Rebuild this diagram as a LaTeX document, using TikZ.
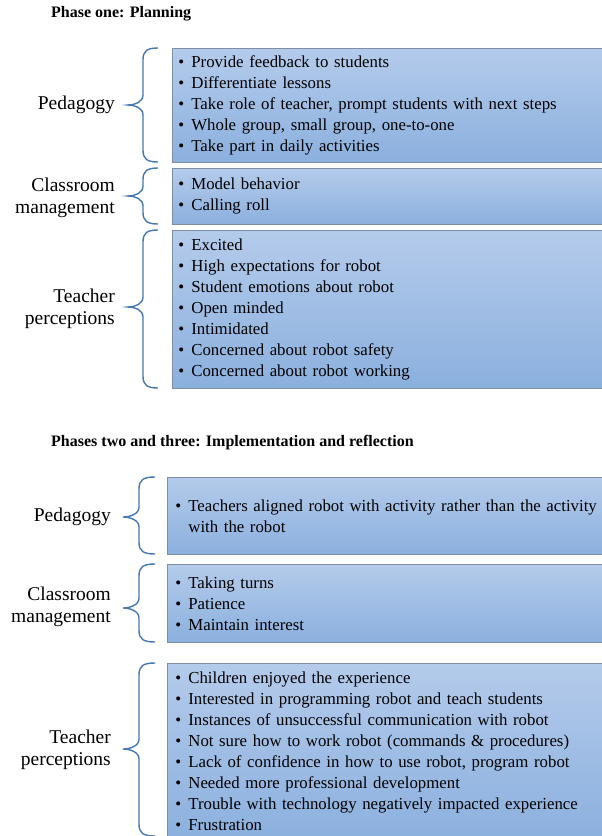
\documentclass[tikz,border=0pt]{standalone}
\usepackage{fontspec}
\setmainfont{Liberation Serif}
\definecolor{boxtop}{RGB}{180,203,235}
\definecolor{boxbot}{RGB}{139,176,222}
\definecolor{boxline}{RGB}{128,142,162}
\definecolor{bracecol}{RGB}{70,120,178}
\newcommand\itm[1]{\makebox[13pt][l]{\textbullet}#1}
% args: xr xv xt top tip bottom
\newcommand\mybrace[6]{%
  \draw[bracestyle] (#1,#4) .. controls (#2+4,#4) and (#2,#4+3) .. (#2,#4+12)
    -- (#2,#5-10) .. controls (#2,#5-3) and (#3+7,#5) .. (#3,#5)
    .. controls (#3+7,#5) and (#2,#5+3) .. (#2,#5+10)
    -- (#2,#6-12) .. controls (#2,#6-3) and (#2+4,#6) .. (#1,#6);}
\tikzset{
  bracestyle/.style={draw=bracecol, line width=1.4pt},
  itembox/.style={draw=boxline, line width=0.8pt, top color=boxtop, bottom color=boxbot,
    anchor=north west, align=left, minimum width=438pt,
    font=\fontsize{16.8}{21}\selectfont},
  catlabel/.style={anchor=east, align=right, inner sep=0pt, font=\fontsize{19.5}{22}\selectfont},
  phasetitle/.style={anchor=west, inner sep=0pt, font=\fontsize{16}{19}\selectfont\bfseries},
}
\begin{document}
\begin{tikzpicture}[x=1pt, y=-1pt]
\useasboundingbox (0,0) rectangle (602,836);
\fill[white] (0,0) rectangle (602,836);

% ---------- Phase one ----------
\node[phasetitle] (t1) at (51,14) {Phase one: Planning};

\node[itembox, minimum height=114pt, inner xsep=6pt, text width=440pt] (b1) at (172,48) {%
\itm{Provide feedback to students}\\
\itm{Differentiate lessons}\\
\itm{Take role of teacher, prompt students with next steps}\\
\itm{Whole group, small group, one-to-one}\\
\itm{Take part in daily activities}};

\node[itembox, minimum height=56pt, inner xsep=6pt, text width=440pt] (b2) at (172,168) {%
\itm{Model behavior}\\
\itm{Calling roll}};

\node[itembox, minimum height=158pt, inner xsep=6pt, text width=440pt] (b3) at (172,230) {%
\itm{Excited}\\
\itm{High expectations for robot}\\
\itm{Student emotions about robot}\\
\itm{Open minded}\\
\itm{Intimidated}\\
\itm{Concerned about robot safety}\\
\itm{Concerned about robot working}};

\mybrace{158}{143}{128}{48}{105}{162}
\mybrace{158}{143}{128}{168}{196}{224}
\mybrace{158}{143}{128}{230}{307}{388}

\node[catlabel] (l1) at (115,105) {Pedagogy};
\node[catlabel] (l2) at (115,198) {Classroom\\management};
\node[catlabel] (l3) at (115,309) {Teacher\\perceptions};

% ---------- Phases two and three ----------
\node[phasetitle] (t2) at (51,443) {Phases two and three: Implementation and reflection};

\node[itembox, minimum height=77pt, inner xsep=8pt, text width=450pt] (b4) at (167,477) {%
\itm{Teachers aligned robot with activity rather than the activity}\\
\hspace*{13pt}with the robot};

\node[itembox, minimum height=78pt, inner xsep=8pt, text width=450pt] (b5) at (167,564) {%
\itm{Taking turns}\\
\itm{Patience}\\
\itm{Maintain interest}};

\node[itembox, minimum height=176pt, inner xsep=8pt, text width=450pt] (b6) at (167,663) {%
\itm{Children enjoyed the experience}\\
\itm{Interested in programming robot and teach students}\\
\itm{Instances of unsuccessful communication with robot}\\
\itm{Not sure how to work robot (commands \& procedures)}\\
\itm{Lack of confidence in how to use robot, program robot}\\
\itm{Needed more professional development}\\
\itm{Trouble with technology negatively impacted experience}\\
\itm{Frustration}};

\mybrace{155}{139}{123}{477}{517}{554}
\mybrace{155}{139}{123}{564}{608}{642}
\mybrace{155}{139}{123}{663}{749}{836}

\node[catlabel] (l4) at (111,517) {Pedagogy};
\node[catlabel] (l5) at (111,607) {Classroom\\management};
\node[catlabel] (l6) at (111,750) {Teacher\\perceptions};
\end{tikzpicture}
\end{document}
